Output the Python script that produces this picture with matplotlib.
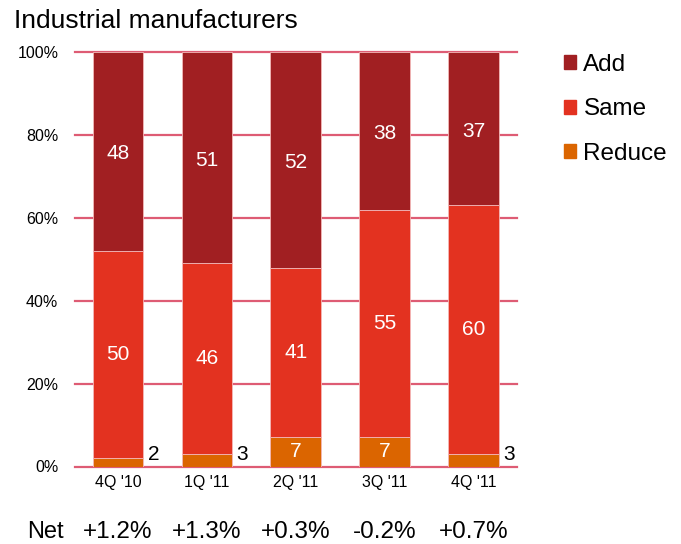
import matplotlib.pyplot as plt
import numpy as np
from matplotlib.patches import Patch
from matplotlib.transforms import blended_transform_factory

plt.rcParams["font.family"] = ["Liberation Sans", "DejaVu Sans"]

quarters = ["4Q '10", "1Q '11", "2Q '11", "3Q '11", "4Q '11"]
reduce_ = [2, 3, 7, 7, 3]
same = [50, 46, 41, 55, 60]
add = [48, 51, 52, 38, 37]
net = ["+1.2%", "+1.3%", "+0.3%", "-0.2%", "+0.7%"]

c_add, c_same, c_reduce = "#A11F22", "#E33220", "#DB6500"
c_grid = "#DE5C74"

fig = plt.figure(figsize=(6.81, 5.44), dpi=100)
ax = fig.add_axes([75 / 681, 1 - 466.5 / 544, (517 - 75) / 681, (466.5 - 52) / 544])

x = np.arange(len(quarters))
w = 0.57
edge = dict(edgecolor="#F4B8B8", linewidth=0.6)
ax.bar(x, reduce_, w, color=c_reduce, zorder=3, **edge)
ax.bar(x, same, w, bottom=reduce_, color=c_same, zorder=3, **edge)
bottom_add = np.array(reduce_) + np.array(same)
ax.bar(x, add, w, bottom=bottom_add, color=c_add, zorder=3, **edge)

ax.set_xlim(-0.485, 4.49)
ax.set_ylim(0, 100)
for yv in range(0, 101, 20):
    ax.axhline(yv, color=c_grid, lw=1.6, zorder=1, clip_on=False)

for s in ax.spines.values():
    s.set_visible(False)
ax.set_yticks(range(0, 101, 20))
ax.set_yticklabels([f"{v}%" for v in range(0, 101, 20)], fontsize=11.5)
ax.set_xticks(x)
ax.set_xticklabels(quarters, fontsize=11.5)
ax.tick_params(length=0)
ax.tick_params(axis="y", pad=12)
ax.tick_params(axis="x", pad=6)

# value labels
for i in x:
    ax.text(i, bottom_add[i] + add[i] / 2 - 0.6, str(add[i]), color="white",
            ha="center", va="center", fontsize=15, zorder=4)
    ax.text(i, reduce_[i] + same[i] / 2, str(same[i]), color="white",
            ha="center", va="center", fontsize=15, zorder=4)
    if reduce_[i] >= 5:
        ax.text(i, reduce_[i] / 2, str(reduce_[i]), color="white",
                ha="center", va="center", fontsize=15, zorder=4)
    else:
        ax.text(i + w / 2 + 0.05, 2.9, str(reduce_[i]), color="black",
                ha="left", va="center", fontsize=15, zorder=4)

# net row
tr = blended_transform_factory(ax.transData, fig.transFigure)
fig.text(27 / 681, 1 - 532 / 544, "Net", fontsize=17, ha="left", va="center")
for i, n in enumerate(net):
    ax.text(i, 1 - 532 / 544, n, transform=tr, fontsize=17.5,
            ha="center", va="center", clip_on=False)

fig.text(14 / 681, 1 - 28 / 544, "Industrial manufacturers", fontsize=19,
         ha="left", va="baseline")

handles = [Patch(color=c_add, label="Add"),
           Patch(color=c_same, label="Same"),
           Patch(color=c_reduce, label="Reduce")]
fig.legend(handles=handles, loc="upper left",
           bbox_to_anchor=(564 / 681, 1 - 54 / 544), frameon=False,
           fontsize=17.5, handlelength=0.5, handleheight=0.5,
           handletextpad=0.3, labelspacing=0.92, borderpad=0,
           borderaxespad=0)

fig.savefig("out.png", dpi=100)
